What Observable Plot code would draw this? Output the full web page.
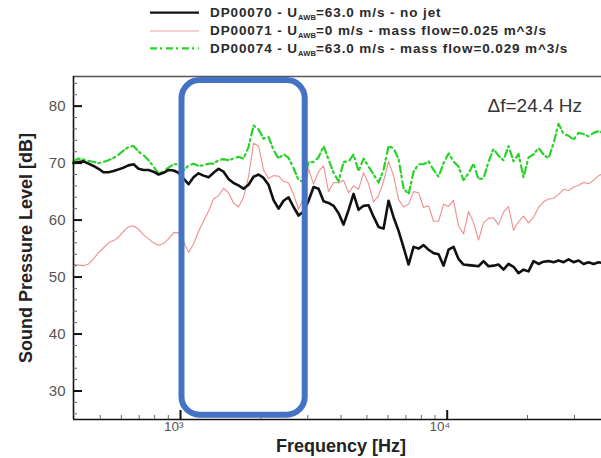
<!DOCTYPE html>
<html>
<head>
<meta charset="utf-8">
<script src="https://cdn.jsdelivr.net/npm/d3@7"></script>
<script src="https://cdn.jsdelivr.net/npm/@observablehq/plot@0.6"></script>
<style>
  body { margin: 0; background: #fff; font-family: "Liberation Sans", Arial, sans-serif; }
  #legend, #chart { width: 601px; }
  svg { display: block; }
</style>
</head>
<body>
<div id="legend"></div>
<div id="chart"></div>
<script>
// ---------------- data ----------------
const freq = [397, 414, 433, 452, 472, 493, 514, 537, 561, 586,
  611, 638, 667, 696, 727, 759, 792, 827, 864, 902,
  942, 983, 1026, 1072, 1119, 1168, 1220, 1274, 1330, 1389,
  1450, 1514, 1581, 1650, 1723, 1799, 1879, 1962, 2048, 2138,
  2233, 2331, 2434, 2542, 2654, 2771, 2893, 3021, 3154, 3293,
  3439, 3591, 3749, 3914, 4087, 4268, 4455, 4652, 4857, 5071,
  5295, 5529, 5773, 6027, 6293, 6571, 6861, 7164, 7480, 7810,
  8155, 8515, 8890, 9283, 9692, 10120, 10560, 11020, 11510, 12020,
  12550, 13100, 13680, 14280, 14910, 15570, 16260, 16980, 17730, 18510,
  19330, 20180, 21070, 22000, 22970, 23990, 25050, 26150, 27310, 28510,
  29770, 31090, 32460, 33890, 35390, 36950, 37890];

// DP00070 - no jet (black)
const spl70 = [70.0, 70.2, 70.3, 69.9, 69.5, 69.0, 68.4, 68.4, 68.6, 68.9,
  69.2, 69.6, 69.8, 69.0, 68.8, 68.8, 68.5, 68.0, 68.3, 68.8,
  68.7, 68.3, 67.3, 66.3, 67.5, 68.2, 67.8, 67.5, 68.3, 69.0,
  68.5, 67.2, 66.5, 66.1, 65.5, 66.2, 67.6, 68.0, 67.4, 66.2,
  63.5, 62.0, 63.4, 64.0, 62.3, 60.8, 61.5, 63.4, 65.8, 65.5,
  63.3, 63.0, 62.5, 61.2, 59.2, 61.8, 64.6, 61.8, 62.5, 62.6,
  60.6, 58.8, 58.5, 63.4, 60.5, 58.1, 55.2, 52.2, 55.3, 55.0,
  55.6, 54.8, 54.2, 54.0, 52.0, 54.8, 55.3, 53.2, 52.2, 52.1,
  52.0, 51.9, 52.8, 51.9, 52.0, 52.2, 51.3, 52.3, 51.8, 50.7,
  51.3, 51.0, 52.8, 52.3, 52.7, 52.8, 52.6, 52.9, 52.6, 53.1,
  52.6, 52.9, 52.3, 52.6, 52.3, 52.6, 52.5];

// DP00071 - mass flow 0.025 (pink)
const spl71 = [52.2, 52.1, 52.0, 52.3, 53.2, 54.3, 55.1, 56.0, 56.4, 57.0,
  58.0, 58.8, 59.0, 58.4, 57.4, 56.7, 56.0, 55.6, 55.9, 56.7,
  57.8, 57.8, 56.3, 54.3, 55.8, 58.0, 59.8, 61.6, 63.7, 64.3,
  65.6, 64.8, 63.0, 62.3, 64.0, 67.6, 73.5, 73.0, 68.8, 67.3,
  67.8, 67.7, 66.8, 66.5, 64.5, 61.9, 63.8, 69.0, 66.3, 68.5,
  69.5, 65.0, 66.6, 66.5, 67.0, 64.8, 66.0, 65.4, 68.3, 66.4,
  63.2, 64.3, 66.8, 70.3, 67.8, 63.6, 62.3, 62.8, 65.0, 64.8,
  62.2, 62.5, 59.8, 59.8, 62.8, 62.4, 63.5, 59.0, 57.6, 61.5,
  59.6, 56.5, 59.5, 60.3, 60.4, 59.2, 61.4, 62.4, 58.2, 59.7,
  60.7, 59.5, 60.5, 62.2, 63.2, 63.7, 63.8, 64.5, 65.4, 65.2,
  65.8, 66.1, 66.6, 66.4, 67.0, 67.8, 68.0];

// DP00074 - mass flow 0.029 (green)
const spl74 = [70.3, 70.8, 70.6, 70.4, 70.2, 70.0, 70.2, 70.5, 70.9, 71.5,
  72.2, 72.8, 73.0, 72.0, 71.4, 70.5, 69.4, 68.2, 68.5, 69.2,
  69.8, 69.8, 68.7, 69.6, 69.9, 69.5, 69.6, 69.9, 69.9, 70.5,
  70.7, 70.5, 70.8, 71.1, 70.8, 72.8, 76.6, 75.9, 74.3, 74.6,
  72.3, 70.8, 71.6, 70.9, 69.1, 67.0, 66.7, 70.1, 70.2, 71.0,
  73.0, 70.6, 68.3, 66.8, 70.2, 70.3, 71.5, 68.6, 70.8, 69.4,
  68.0, 66.6, 68.8, 73.0, 72.6, 70.7, 65.6, 64.5, 68.5, 69.8,
  69.8, 70.3, 68.8, 67.6, 70.0, 71.7, 70.3, 69.4, 67.0, 68.2,
  69.9, 67.2, 67.3, 70.2, 72.5, 71.3, 70.5, 73.0, 70.3, 71.6,
  67.5, 71.0, 71.5, 72.7, 71.5, 70.8, 73.5, 76.9, 75.1, 74.8,
  74.1, 75.3, 75.1, 74.7, 75.3, 75.6, 75.4];

const seriesIds = ["DP00070", "DP00071", "DP00074"];
const seriesSpeed = ["=63.0 m/s", "=0 m/s", "=63.0 m/s"];
const seriesNote = [" - no jet", " - mass flow=0.025 m^3/s", " - mass flow=0.029 m^3/s"];
const yMajor = [30, 40, 50, 60, 70, 80];
const yMinor = [26, 28, 32, 34, 36, 38, 42, 44, 46, 48, 52, 54, 56, 58, 62, 64, 66, 68, 72, 74, 76, 78, 82, 84];
const xMajor = [1000, 10000];
const xMajorLabels = ["10³", "10⁴"];
const xMinor = [500, 600, 700, 800, 900, 2000, 3000, 4000, 5000, 6000, 7000, 8000, 9000, 20000, 30000];
const xDomain = [397, 37890];
const yDomain = [25, 85.2];
const boxFreq = [1013, 2935];
const boxLevel = [25.75, 84.5];
const xTitle = "Frequency [Hz]";
const yTitle = "Sound Pressure Level [dB]";
const dfLabel = "Δf=24.4 Hz";

// ---------------- legend ----------------
const legendStyles = [
  {stroke: "#111", width: 2.2, dash: null},
  {stroke: "#f2a2a2", width: 1.1, dash: null},
  {stroke: "#2bd12b", width: 2.2, dash: "7,3,2,4"}
];
const legendLineY = [12.7, 31, 48.3];
const legendTextY = [16.6, 35, 53.2];
const lsvg = d3.select("#legend").append("svg").attr("width", 601).attr("height", 60);
seriesIds.forEach((id, i) => {
  lsvg.append("line").attr("x1", 150).attr("x2", 199)
    .attr("y1", legendLineY[i]).attr("y2", legendLineY[i])
    .attr("stroke", legendStyles[i].stroke).attr("stroke-width", legendStyles[i].width)
    .attr("stroke-dasharray", legendStyles[i].dash);
  const t = lsvg.append("text").attr("x", 210).attr("y", legendTextY[i])
    .attr("font-family", "Liberation Sans, Arial, sans-serif")
    .attr("font-weight", "bold").attr("font-size", 13.5).attr("letter-spacing", 0.9)
    .attr("fill", "#2a2a2a");
  t.append("tspan").text(id + " - U");
  t.append("tspan").attr("font-size", 7.5).attr("dy", 3).attr("letter-spacing", 0.2).text("AWB");
  t.append("tspan").attr("dy", -3).text(seriesSpeed[i] + seriesNote[i]);
});

// ---------------- chart ----------------
const rows = (vals) => freq.map((f, i) => ({f, v: vals[i]}));
const plotW = 601 - 73, plotH = 398 - 16 - 39;

const chart = Plot.plot({
  width: 601,
  height: 398,
  marginTop: 16,
  marginBottom: 39,
  marginLeft: 73,
  marginRight: 0,
  x: {type: "log", domain: xDomain, axis: null},
  y: {domain: yDomain, axis: null},
  style: {fontFamily: "Liberation Sans, Arial, sans-serif", background: "#fff", overflow: "visible"},
  marks: [
    Plot.line(rows(spl71), {x: "f", y: "v", stroke: "#ee8e8e", strokeWidth: 1.1}),
    Plot.line(rows(spl74), {x: "f", y: "v", stroke: "#2bd12b", strokeWidth: 2.2, strokeDasharray: "7,3,2,4"}),
    Plot.line(rows(spl70), {x: "f", y: "v", stroke: "#111", strokeWidth: 2.6}),
    // frame lines
    Plot.ruleY([yDomain[1]], {stroke: "#555", strokeWidth: 1.5}),
    Plot.ruleX([xDomain[0]], {stroke: "#111", strokeWidth: 1.6}),
    Plot.ruleY([yDomain[0]], {stroke: "#111", strokeWidth: 1.6}),
    // ticks (inward)
    Plot.ruleY(yMajor, {y: d => d, insetRight: plotW - 9, stroke: "#111", strokeWidth: 2}),
    Plot.ruleY(yMinor, {y: d => d, insetRight: plotW - 4, stroke: "#666", strokeWidth: 1}),
    Plot.ruleX(xMajor, {x: d => d, insetTop: plotH - 9, stroke: "#111", strokeWidth: 2}),
    Plot.ruleX(xMinor, {x: d => d, insetTop: plotH - 4, stroke: "#666", strokeWidth: 1}),
    // tick labels
    Plot.text(yMajor, {x: xDomain[0], y: d => d, text: d => String(d), textAnchor: "end", lineAnchor: "middle", dx: -8, fill: "#555", fontSize: 15}),
    Plot.text(xMajor, {x: d => d, y: yDomain[0], text: xMajorLabels, textAnchor: "end", lineAnchor: "top", dx: 3, dy: 2, fill: "#555", fontSize: 13.5}),
    // axis titles
    Plot.text([xTitle], {frameAnchor: "bottom", text: d => d, textAnchor: "middle", lineAnchor: "middle", dx: 3.5, dy: 27, fontSize: 18, fontWeight: "bold", fill: "#222"}),
    Plot.text([yTitle], {frameAnchor: "left", text: d => d, textAnchor: "middle", lineAnchor: "middle", rotate: -90, dx: -47, fontSize: 18, fontWeight: "bold", fill: "#222"}),
    // annotation
    Plot.text([dfLabel], {frameAnchor: "top-left", text: d => d, textAnchor: "start", lineAnchor: "bottom", dx: 414, dy: 35.7, fontSize: 19, letterSpacing: 1.5, fill: "#333"}),
    Plot.rect([0], {x1: boxFreq[0], x2: boxFreq[1], y1: boxLevel[0], y2: boxLevel[1], fill: "none", stroke: "#4472c4", strokeWidth: 6, rx: 18})
  ]
});
document.getElementById("chart").appendChild(chart);
</script>
</body>
</html>
